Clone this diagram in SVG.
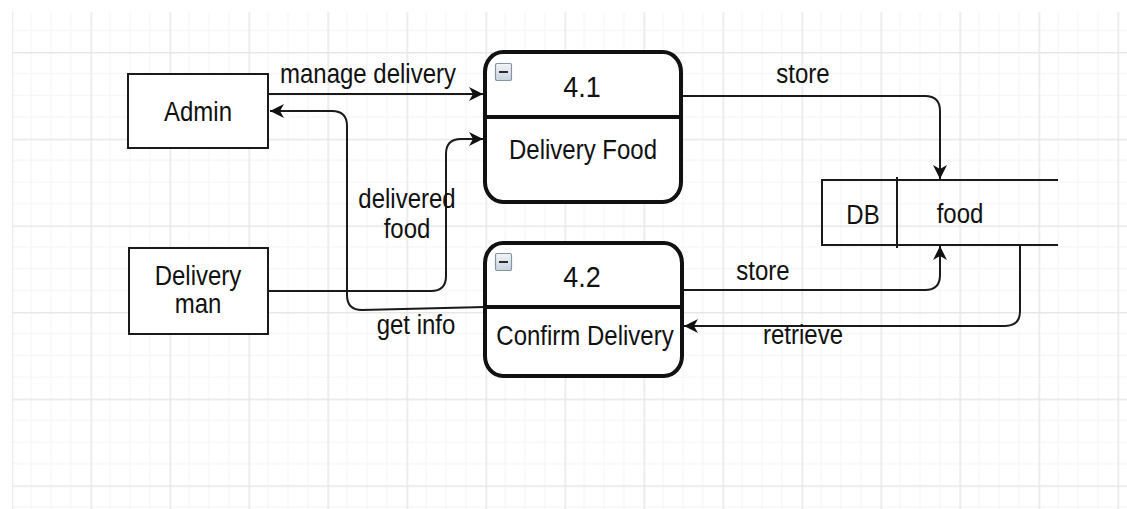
<svg xmlns="http://www.w3.org/2000/svg" width="1127" height="509" viewBox="0 0 1127 509">
  <style>
    .txt { font-family: "Liberation Sans", Arial, sans-serif; font-size: 24px; fill: #111; text-anchor: middle; }
    .big { font-size: 27px; }
    .entity { fill: #fff; stroke: #1a1a1a; stroke-width: 2; }
    .proc { fill: #fff; stroke: #111; stroke-width: 4; }
    .divider { stroke: #111; stroke-width: 4; }
    .store { fill: none; stroke: #1a1a1a; stroke-width: 2; }
    .edge { fill: none; stroke: #1a1a1a; stroke-width: 2; }
    .icon { fill: url(#iconFill); stroke: #8494a6; stroke-width: 1.2; }
    .minus { stroke: #2b2b2b; stroke-width: 2; }
  </style>
  <defs>
    <!-- background grid: minor every 19.75 x 21.67, major every 4 cells -->
    <pattern id="grid" patternUnits="userSpaceOnUse" x="11.5" y="52" width="79" height="86.67">
      <g fill="#f4f4f4">
        <rect x="19.25" y="0" width="1" height="86.67"/>
        <rect x="39" y="0" width="1" height="86.67"/>
        <rect x="58.75" y="0" width="1" height="86.67"/>
        <rect x="0" y="21.17" width="79" height="1"/>
        <rect x="0" y="42.83" width="79" height="1"/>
        <rect x="0" y="64.5" width="79" height="1"/>
      </g>
      <g fill="#e7e7e7">
        <rect x="0" y="0" width="1.5" height="86.67"/>
        <rect x="0" y="0" width="79" height="1.5"/>
      </g>
    </pattern>
    <linearGradient id="iconFill" x1="0" y1="0" x2="0" y2="1">
      <stop offset="0" stop-color="#f2f5f8"/>
      <stop offset="1" stop-color="#c9d3de"/>
    </linearGradient>
    <marker id="arrow" markerUnits="userSpaceOnUse" markerWidth="16" markerHeight="16" refX="14" refY="7" orient="auto">
      <path d="M0,0 L14,7 L0,14 L4,7 Z" fill="#111"/>
    </marker>
  </defs>

  <rect x="0" y="0" width="1127" height="509" fill="#fff"/>
  <rect x="12" y="12" width="1115" height="497" fill="url(#grid)"/>

  <!-- connectors -->
  <g id="connectors">
    <!-- Admin -> 4.1 -->
    <path class="edge" d="M268,94 L483,94" marker-end="url(#arrow)"/>
    <!-- 4.2 -> Admin (get info) -->
    <path class="edge" d="M485,307 L362,310 Q347,310 347,295 L347,126 Q347,111 332,111 L270,111" marker-end="url(#arrow)"/>
    <!-- Delivery man -> 4.1 (delivered food) -->
    <path class="edge" d="M268,291 L431,291 Q446,291 446,276 L446,154 Q446,139 461,139 L483,139" marker-end="url(#arrow)"/>
    <!-- 4.1 -> DB -->
    <path class="edge" d="M681,96 L925,96 Q940,96 940,111 L940,179" marker-end="url(#arrow)"/>
    <!-- 4.2 -> DB -->
    <path class="edge" d="M682,290 L925,290 Q940,290 940,275 L940,246" marker-end="url(#arrow)"/>
    <!-- DB -> 4.2 (retrieve) -->
    <path class="edge" d="M1020,245 L1020,311 Q1020,326 1005,326 L684,326" marker-end="url(#arrow)"/>
  </g>

  <!-- connector labels -->
  <g id="labels">
    <text class="txt" transform="translate(368 83) scale(1 1.12)">manage delivery</text>
    <text class="txt" transform="translate(407 208) scale(1 1.12)">delivered</text>
    <text class="txt" transform="translate(407 238) scale(1 1.12)">food</text>
    <text class="txt" transform="translate(416 334) scale(1 1.12)">get info</text>
    <text class="txt" transform="translate(803 83) scale(1 1.12)">store</text>
    <text class="txt" transform="translate(763 280) scale(1 1.12)">store</text>
    <text class="txt" transform="translate(803 344) scale(1 1.12)">retrieve</text>
  </g>

  <!-- external entities -->
  <g id="admin">
    <rect class="entity" x="128" y="74" width="140" height="74"/>
    <text class="txt" transform="translate(198 121) scale(1 1.12)">Admin</text>
  </g>
  <g id="delivery-man">
    <rect class="entity" x="129" y="248" width="139" height="86"/>
    <text class="txt" transform="translate(198 285) scale(1 1.12)">Delivery</text>
    <text class="txt" transform="translate(198 313) scale(1 1.12)">man</text>
  </g>

  <!-- processes -->
  <g id="process-4-1">
    <rect class="proc" x="485" y="52" width="196" height="150" rx="18" ry="20"/>
    <line class="divider" x1="485" y1="117" x2="681" y2="117"/>
    <rect class="icon" x="495.5" y="63.5" width="16" height="17" rx="1.5"/>
    <line class="minus" x1="499" y1="72" x2="508" y2="72"/>
    <text class="txt big" transform="translate(582 97) scale(1 1.12)">4.1</text>
    <text class="txt" transform="translate(583 159) scale(1 1.12)">Delivery Food</text>
  </g>
  <g id="process-4-2">
    <rect class="proc" x="485" y="243" width="197" height="133" rx="18" ry="20"/>
    <line class="divider" x1="485" y1="307" x2="682" y2="307"/>
    <rect class="icon" x="495.5" y="253.5" width="16" height="17" rx="1.5"/>
    <line class="minus" x1="499" y1="262" x2="508" y2="262"/>
    <text class="txt big" transform="translate(582 287) scale(1 1.12)">4.2</text>
    <text class="txt" transform="translate(585 345) scale(1 1.12)">Confirm Delivery</text>
  </g>

  <!-- data store -->
  <g id="db-food">
    <path class="store" d="M1058,180 L822,180 L822,245 L1058,245"/>
    <line class="store" x1="897" y1="177" x2="897" y2="248"/>
    <text class="txt" transform="translate(863 224) scale(1 1.12)">DB</text>
    <text class="txt" transform="translate(960 223) scale(1 1.12)">food</text>
  </g>
</svg>
